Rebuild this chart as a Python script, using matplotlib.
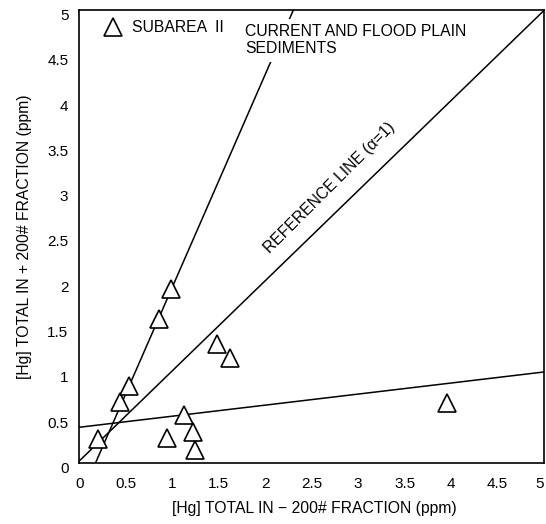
import matplotlib
matplotlib.use('Agg')
from matplotlib import pyplot as plt
import matplotlib.transforms as mtransforms
import numpy as np

plt.rcParams['font.family'] = ['Liberation Sans', 'DejaVu Sans']

# Subarea II samples: -200# fraction vs +200# fraction (ppm)
hg_fine = [0.20, 0.44, 0.53, 0.86, 0.99, 0.945, 1.13, 1.22, 1.24, 1.48, 1.62, 3.96]
hg_coarse = [0.27, 0.68, 0.85, 1.59, 1.93, 0.28, 0.54, 0.35, 0.15, 1.32, 1.16, 0.67]

# fitted / reference lines: (x0, y0, x1, y1)
line_steep = (0.17, 0.0, 2.30, 5.0)
line_ref = (0.0, 0.03, 5.0, 5.0)
line_flat = (0.0, 0.40, 5.0, 1.01)

ticks = [0, 0.5, 1, 1.5, 2, 2.5, 3, 3.5, 4, 4.5, 5]
tick_labels = ['0', '0.5', '1', '1.5', '2', '2.5', '3', '3.5', '4', '4.5', '5']

fig = plt.figure(figsize=(5.46, 5.24), dpi=100)
ax = fig.add_axes([0.1456, 0.1155, 0.8507, 0.8645])

for x0, y0, x1, y1 in (line_steep, line_ref, line_flat):
    ax.plot([x0, x1], [y0, y1], color='black', lw=1.1, zorder=2)

ax.plot(hg_fine, hg_coarse, linestyle='none', marker='^', markersize=12.5,
        markerfacecolor='white', markeredgecolor='black', markeredgewidth=1.2,
        zorder=3)

ax.set_xlim(0, 5)
ax.set_ylim(0, 5)
ax.set_xticks(ticks)
ax.set_xticklabels(tick_labels)
ax.set_yticks(ticks)
ax.set_yticklabels(tick_labels)
ax.tick_params(length=0, labelsize=11)
ax.tick_params(axis='x', pad=10)
ax.tick_params(axis='y', pad=8)
for sp in ax.spines.values():
    sp.set_linewidth(1.2)

off = mtransforms.ScaledTranslation(0, -4 / 100, fig.dpi_scale_trans)
for lbl in ax.get_yticklabels():
    lbl.set_transform(lbl.get_transform() + off)
ax.get_xticklabels()[-1].set_ha('right')

ax.set_xlabel('[Hg] TOTAL IN \u2212 200# FRACTION (ppm)', fontsize=11.3)
ax.xaxis.set_label_coords(0.505, -0.083)
ax.set_ylabel('[Hg] TOTAL IN + 200# FRACTION (ppm)', fontsize=11.3)
ax.yaxis.set_label_coords(-0.102, 0.5)

# legend-like annotation
ax.plot([0.366], [4.82], linestyle='none', marker='^', markersize=12.5,
        markerfacecolor='white', markeredgecolor='black', markeredgewidth=1.2)
ax.text(0.565, 4.81, 'SUBAREA  II', fontsize=11.3, va='center', ha='left')

ax.text(1.78, 4.67, 'CURRENT AND FLOOD PLAIN\nSEDIMENTS', fontsize=11.3,
        va='center', ha='left', linespacing=1.15,
        bbox=dict(facecolor='white', edgecolor='none', pad=4), zorder=4)

ax.text(2.69, 3.04, 'REFERENCE LINE (\u03b1=1)', fontsize=11.3, rotation=45,
        rotation_mode='anchor', ha='center', va='center')

fig.savefig('out.png', dpi=100)
